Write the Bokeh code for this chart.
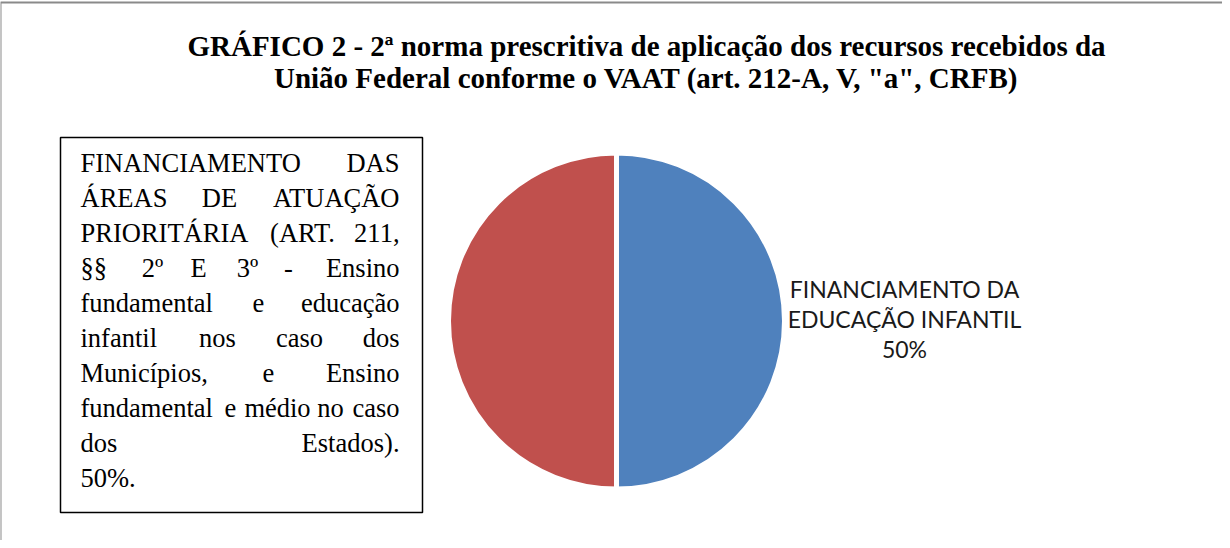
import math
from bokeh.plotting import figure
from bokeh.models import Range1d
from bokeh.core.properties import value
from bokeh.embed import file_html
from bokeh.resources import INLINE

# ---- data ----
categories = ["FINANCIAMENTO DA EDUCAÇÃO INFANTIL",
              "FINANCIAMENTO DAS ÁREAS DE ATUAÇÃO PRIORITÁRIA"]
shares = [50, 50]
colors = ["#4F81BD", "#C0504D"]

title_lines = ["GRÁFICO 2 - 2ª norma prescritiva de aplicação dos recursos recebidos da",
               "União Federal conforme o VAAT (art. 212-A, V, \"a\", CRFB)"]
right_label_lines = ["FINANCIAMENTO DA", "EDUCAÇÃO INFANTIL", "50%"]
box_lines = [
    ["FINANCIAMENTO", "DAS"],
    ["ÁREAS", "DE", "ATUAÇÃO"],
    ["PRIORITÁRIA", "(ART.", "211,"],
    ["§§", "2º", "E", "3º", "-", "Ensino"],
    ["fundamental", "e", "educação"],
    ["infantil", "nos", "caso", "dos"],
    ["Municípios,", "e", "Ensino"],
    ["fundamental", "e", "médio", "no", "caso"],
    ["dos", "Estados)."],
    ["50%."],
]
# centres (page px) of the inner words of each justified line
inner_centres = [[], [227], [310], [160, 206, 255, 296], [266], [225, 307], [276],
                 [238, 285, 338], [], []]

W, H = 1222, 540
TXT = 8  # text baseline correction (px)


def X(px):
    return px - 8


def Y(py):
    return H - (py - 8)


def TY(py):
    return Y(py - TXT)


p = figure(width=W, height=H, output_backend="svg", toolbar_location=None,
           x_range=Range1d(0, W), y_range=Range1d(0, H), min_border=0)
p.axis.visible = False
p.grid.visible = False
p.outline_line_color = None
p.background_fill_color = "white"
p.border_fill_color = "white"

# outer chart border (cut by the page on the right and bottom)
p.quad(left=[X(8)], right=[X(1300)], top=[Y(10)], bottom=[Y(600)],
       fill_color=None, line_color="#8a8a8a", line_width=2)

# title
for i, t in enumerate(title_lines):
    p.text(x=[X(654)], y=[TY(61 + i * 32)], text=[t], text_align="center",
           text_baseline="alphabetic", text_font=value("Liberation Serif"),
           text_font_style="bold", text_font_size="29px", text_color="black")

# pie
total = sum(shares)
cx, cy, r = X(624), Y(328.5), 168
start = math.pi / 2
for s, c in zip(shares, colors):
    end = start - s / total * 2 * math.pi
    p.wedge(x=[cx], y=[cy], radius=r, radius_units="screen",
            start_angle=[start], end_angle=[end], direction="clock",
            fill_color=c, line_color="white", line_width=5)
    start = end

# right label
for i, t in enumerate(right_label_lines):
    p.text(x=[X(912)], y=[TY(304 + i * 30)], text=[t], text_align="center",
           text_baseline="alphabetic", text_font=value("Lato"),
           text_font_size="23px", text_color="#1a1a1a")

# left text box
p.quad(left=[X(68)], right=[X(430)], top=[Y(145)], bottom=[Y(520)],
       fill_color="white", line_color="black", line_width=1.5)
left_edge, right_edge = 88, 407
for k, words in enumerate(box_lines):
    by = TY(178 + k * 35)
    common = dict(text_baseline="alphabetic", text_font=value("Liberation Serif"),
                  text_font_size="26.5px", text_color="black")
    p.text(x=[X(left_edge)], y=[by], text=[words[0]], text_align="left", **common)
    if len(words) > 1:
        p.text(x=[X(right_edge)], y=[by], text=[words[-1]], text_align="right", **common)
    for w, cxw in zip(words[1:-1], inner_centres[k]):
        p.text(x=[X(cxw)], y=[by], text=[w], text_align="center", **common)

open("out.html", "w").write(file_html(p, INLINE))
